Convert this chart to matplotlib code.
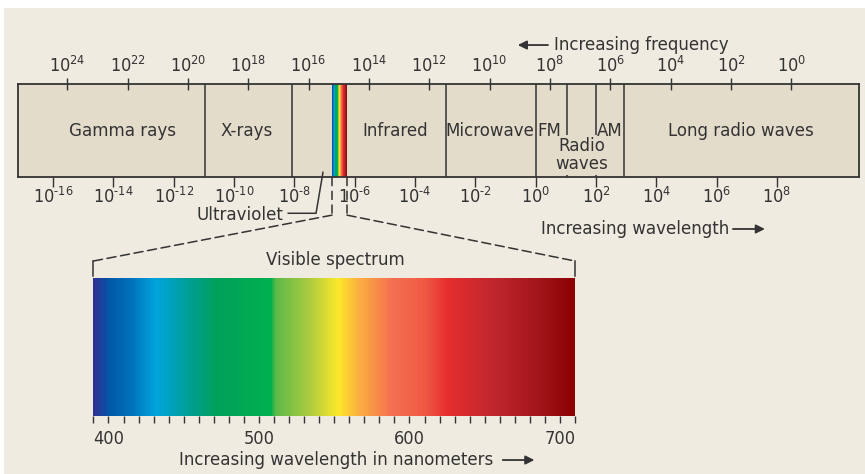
import numpy as np
import matplotlib
matplotlib.use('Agg')
import matplotlib.pyplot as plt
from matplotlib.colors import LinearSegmentedColormap
from matplotlib.patches import ConnectionPatch, Rectangle
from matplotlib.ticker import NullLocator

plt.rcParams['font.family'] = ['DejaVu Sans']
plt.rcParams['font.stretch'] = 'condensed'
plt.rcParams['mathtext.fontset'] = 'custom'
plt.rcParams['mathtext.rm'] = 'DejaVu Sans'
plt.rcParams['mathtext.default'] = 'regular'

C_LIGHT = 3e8  # m/s, links the two scales

# exponents on the two log scales
freq_exp = [24, 22, 20, 18, 16, 14, 12, 10, 8, 6, 4, 2, 0]
wave_exp = [-16, -14, -12, -10, -8, -6, -4, -2, 0, 2, 4, 6, 8]

# wavelength range of the bar and boundaries between bands (metres)
bar_range = [10**-17.16, 10**10.72]
band_bounds = [10**-10.96, 10**-8.08, 10**-2.97, 10**0.0, 10**1.04, 10**2.0, 10**2.93]
vis_band = [10**-6.75, 10**-6.255]

band_names = ['Gamma rays', 'X-rays', 'Infrared', 'Microwave', 'FM', 'AM', 'Long radio waves']
band_name_at = [10**-13.7, 10**-9.57, 10**-4.66, 10**-1.51, 10**0.47, 10**2.46, 10**6.8]
radio_at = 10**1.535

# visible spectrum colour stops (nm)
spec_nm = [390, 401, 415, 431, 455, 472, 508, 511, 532, 553, 566, 588, 610, 626, 655, 688, 710]
spec_hex = ['#2E3192', '#0059A8', '#0072BC', '#00A4DE', '#009E8F', '#00A05A', '#00B04F',
            '#5DB848', '#A6C93F', '#FCE82B', '#FBB040', '#F37150', '#F05A44', '#E52D2E',
            '#C1272D', '#A01419', '#8B0000']
nm_ticks = list(range(390, 711, 10))
nm_labeled = [400, 500, 600, 700]

INK = '#333333'
BAR = '#E3DCCB'
BG = '#EFEBE1'
FS = 13.3
TS = 13

W, H = 865, 474


def fbox(x0, y0, x1, y1):
    return [x0 / W, 1 - y1 / H, (x1 - x0) / W, (y1 - y0) / H]


def pow10(e):
    return '$10^{\\text{' + str(e) + '}}$'


vis_cmap = LinearSegmentedColormap.from_list(
    'visible', [((n - spec_nm[0]) / (spec_nm[-1] - spec_nm[0]), c) for n, c in zip(spec_nm, spec_hex)])

fig = plt.figure(figsize=(W / 100, H / 100), dpi=100, facecolor='white')
fig.patches.append(Rectangle((4 / W, 0), 1 - 4 / W, 1 - 8 / H, transform=fig.transFigure,
                             facecolor=BG, edgecolor='none', zorder=-10))

# ---- main spectrum bar ----
ax = fig.add_axes(fbox(18, 84, 859, 177))
ax.set_facecolor(BAR)
ax.set_xscale('log')
ax.set_xlim(bar_range)
ax.set_ylim(0, 1)
ax.set_yticks([])
for s in ax.spines.values():
    s.set_color(INK)
    s.set_linewidth(1.3)

for b in band_bounds:
    ax.axvline(b, color=INK, lw=1.1, zorder=2)

xe = np.geomspace(vis_band[0], vis_band[1], 161)
cc = np.linspace(spec_nm[0], spec_nm[-1], 160)
ax.pcolormesh(xe, [0, 1], cc[None, :], cmap=vis_cmap, vmin=spec_nm[0], vmax=spec_nm[-1], zorder=1.5)

for name, pos in zip(band_names, band_name_at):
    ax.text(pos, 0.5, name, ha='center', va='center', fontsize=FS, color=INK)
ax.text(radio_at, 0.235, 'Radio\nwaves', ha='center', va='center', fontsize=FS, color=INK,
        linespacing=1.0, zorder=2.2,
        bbox=dict(facecolor=BAR, edgecolor='none', pad=1.5))

# wavelength axis (bottom)
ax.set_xticks([10.0**e for e in wave_exp], labels=[pow10(e) for e in wave_exp])
ax.xaxis.set_minor_locator(NullLocator())
ax.tick_params(axis='x', which='major', direction='out', length=7, width=1, pad=0.3,
               labelsize=TS, color=INK, labelcolor=INK)

# frequency axis (top)
sec = ax.secondary_xaxis('top', functions=(lambda w: C_LIGHT / w, lambda f: C_LIGHT / f))
sec.set_xticks([10.0**e for e in freq_exp], labels=[pow10(e) for e in freq_exp])
sec.xaxis.set_minor_locator(NullLocator())
sec.tick_params(axis='x', which='major', direction='inout', length=9, width=1, pad=1.0,
                labelsize=TS, color=INK, labelcolor=INK)
for s in sec.spines.values():
    s.set_visible(False)

# arrows
ax.annotate('', xy=(10**-0.59, 1.419), xytext=(10**0.41, 1.419), annotation_clip=False,
            arrowprops=dict(arrowstyle='-|>', color=INK, lw=1.3, mutation_scale=13,
                            shrinkA=0, shrinkB=0))
ax.text(10**0.61, 1.419, 'Increasing frequency', ha='left', va='center', fontsize=FS,
        color=INK, clip_on=False)
ax.text(10**0.176, -0.559, 'Increasing wavelength', ha='left', va='center', fontsize=FS,
        color=INK, clip_on=False)
ax.annotate('', xy=(10**7.6, -0.559), xytext=(10**6.54, -0.559), annotation_clip=False,
            arrowprops=dict(arrowstyle='-|>', color=INK, lw=1.3, mutation_scale=13,
                            shrinkA=0, shrinkB=0))

# ultraviolet leader
ax.plot([10**-8.2, 10**-7.28, 10**-7.05], [-0.39, -0.39, 0.05], color=INK, lw=1.1, clip_on=False)
ax.text(10**-8.36, -0.405, 'Ultraviolet', ha='right', va='center', fontsize=FS, color=INK,
        clip_on=False)

# ---- visible spectrum ----
ax2 = fig.add_axes(fbox(93.4, 278, 575, 416))
sx = np.linspace(spec_nm[0], spec_nm[-1], 641)
ax2.pcolormesh(sx, [0, 1], ((sx[:-1] + sx[1:]) / 2)[None, :], cmap=vis_cmap,
               vmin=spec_nm[0], vmax=spec_nm[-1])
ax2.set_xlim(spec_nm[0], spec_nm[-1])
ax2.set_ylim(0, 1)
ax2.set_yticks([])
for s in ax2.spines.values():
    s.set_visible(False)
ax2.set_xticks(nm_ticks, labels=[str(t) if t in nm_labeled else '' for t in nm_ticks])
ax2.tick_params(axis='x', direction='out', length=4.8, width=1, pad=5, labelsize=TS,
                color=INK, labelcolor=INK)

ax2.text(550.7, 1.133, 'Visible spectrum', ha='center', va='center', fontsize=FS, color=INK,
         clip_on=False)
ax2.text(447, -0.319, 'Increasing wavelength in nanometers', ha='left', va='center',
         fontsize=FS, color=INK, clip_on=False)
ax2.annotate('', xy=(683, -0.319), xytext=(662, -0.319), annotation_clip=False,
             arrowprops=dict(arrowstyle='-|>', color=INK, lw=1.3, mutation_scale=13,
                             shrinkA=0, shrinkB=0))

# dashed zoom lines from the thin band to the enlarged spectrum
dash = (0, (6, 3))
for w, nm in [(vis_band[0], spec_nm[0]), (vis_band[1], spec_nm[-1])]:
    ax.plot([w, w], [0, -0.41], color=INK, lw=1.1, ls=dash, clip_on=False)
    con = ConnectionPatch(xyA=(w, -0.41), coordsA=ax.transData,
                          xyB=(nm, 1.123), coordsB=ax2.transData,
                          color=INK, lw=1.1, ls=dash)
    fig.add_artist(con)
    ax2.plot([nm, nm], [1.123, 1.018], color=INK, lw=1.1, clip_on=False)

fig.savefig('out.png', dpi=100, facecolor=fig.get_facecolor())
